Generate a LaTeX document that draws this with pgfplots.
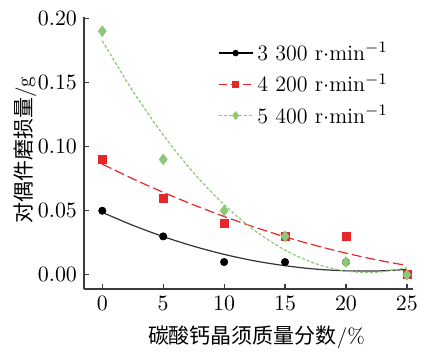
\documentclass[border=0pt]{standalone}
\usepackage{fontspec}
\usepackage{pgfplots}
\pgfplotsset{compat=1.18}
\newfontfamily\cjk{Noto Sans CJK SC}
\definecolor{cred}{RGB}{232,38,42}
\definecolor{cgreen}{RGB}{140,200,118}
\definecolor{axgray}{RGB}{60,60,60}
\begin{document}
\begin{tikzpicture}
\begin{axis}[
  scale only axis,
  width=164.5pt, height=136pt,
  at={(0,0)}, anchor=south west,
  xmin=-1.5, xmax=25.5, ymin=-0.011, ymax=0.201,
  axis x line*=bottom, axis y line*=left,
  axis line style={axgray, line width=0.6pt, -},
  tick style={axgray, line width=0.6pt},
  tick align=inside, major tick length=2.5pt,
  xtick={0,5,10,15,20,25},
  ytick={0,0.05,0.10,0.15,0.20},
  yticklabel style={/pgf/number format/fixed, /pgf/number format/fixed zerofill, /pgf/number format/precision=2},
  ticklabel style={font=\fontsize{11}{13}\selectfont},
  xlabel={{\cjk 碳酸钙晶须质量分数}/\%},
  ylabel={{\cjk 对偶件磨损量}/g},
  label style={font=\fontsize{10.5}{12}\selectfont},
  xlabel style={at={(rel axis cs:0.5,0)}, anchor=center, yshift=-24pt, xshift=4pt},
  ylabel style={at={(rel axis cs:0,0.5)}, anchor=center, yshift=29.5pt, xshift=1.5pt},
  legend style={draw=none, fill=none, at={(rel axis cs:0.40,0.93)}, anchor=north west,
    font=\fontsize{11}{13}\selectfont, row sep=1pt, inner sep=1pt},
  legend cell align=left,
]
\addlegendimage{black, line width=0.6pt, mark=*, mark size=1.3pt}
\addlegendentry{3 300 r$\cdot$min$^{-1}$}
\addlegendimage{cred, line width=0.6pt, dash pattern=on 4pt off 2pt, mark=square*, mark size=1.5pt, mark options={solid}}
\addlegendentry{4 200 r$\cdot$min$^{-1}$}
\addlegendimage{cgreen, line width=0.6pt, dash pattern=on 1.5pt off 1pt, mark=diamond*, mark size=1.8pt, mark options={solid}}
\addlegendentry{5 400 r$\cdot$min$^{-1}$}

% fitted curves
\addplot[forget plot, black!80, line width=0.6pt, smooth] coordinates {
(0,0.0487)(2.5,0.03866)(5,0.02987)(7.5,0.02231)(10,0.01600)(12.5,0.01093)(15,0.00715)(17.5,0.00451)(20,0.00318)(22.5,0.00305)(25,0.00421)};
\addplot[forget plot, cred, line width=0.6pt, dash pattern=on 5pt off 2pt, smooth] coordinates {
(0,0.0863)(2.5,0.07495)(5,0.06436)(7.5,0.05455)(10,0.04552)(12.5,0.03722)(15,0.02966)(17.5,0.02294)(20,0.01696)(22.5,0.01174)(25,0.00732)};
\addplot[forget plot, cgreen, line width=0.6pt, dash pattern=on 1.5pt off 1pt, smooth] coordinates {
(0,0.1825)(2.5,0.14342)(5,0.10907)(7.5,0.07951)(10,0.05472)(12.5,0.03464)(15,0.01934)(17.5,0.00879)(20,0.0030)(22.5,0.00197)(25,0.00564)};

% data points
\addplot[forget plot, only marks, black, mark=*, mark size=1.8pt] coordinates {
(0,0.05)(5,0.03)(10,0.01)(15,0.01)(20,0.01)(25,0.00)};
\addplot[forget plot, only marks, cred, mark=square*, mark size=2pt] coordinates {
(0,0.09)(5,0.06)(10,0.04)(15,0.03)(20,0.03)(25,0.00)};
\addplot[forget plot, only marks, cgreen, mark=diamond*, mark size=2.6pt] coordinates {
(0,0.19)(5,0.09)(10,0.05)(15,0.03)(20,0.01)(25,0.00)};
\end{axis}
\path[use as bounding box] (-42pt,-29pt) rectangle (170.5pt,144.5pt);
\end{tikzpicture}
\end{document}
